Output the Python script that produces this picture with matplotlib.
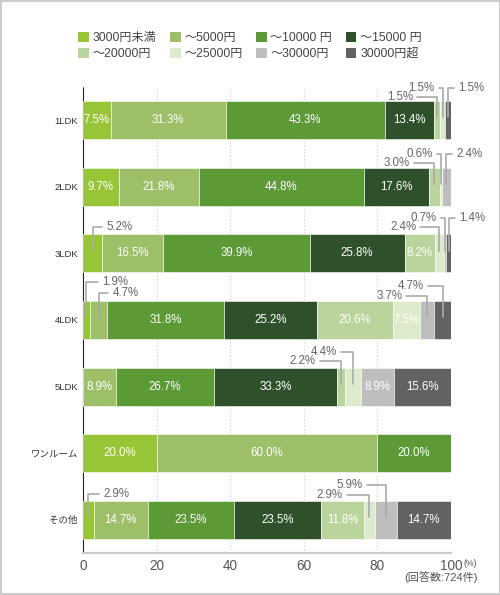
import numpy as np
import matplotlib
matplotlib.use('Agg')
import matplotlib.pyplot as plt
from matplotlib.patches import Patch, Rectangle

plt.rcParams['font.family'] = ['Liberation Sans', 'Noto Sans CJK JP', 'DejaVu Sans']

# rows (top to bottom) and price bands
categories = ['1LDK', '2LDK', '3LDK', '4LDK', '5LDK', 'ワンルーム', 'その他']
band_labels = ['3000円未満', '〜5000円', '〜10000 円', '〜15000 円',
               '〜20000円', '〜25000円', '〜30000円', '30000円超']

# share (%) of each band per row
under_3000 = [7.5, 9.7, 5.2, 1.9, 0.0, 20.0, 2.9]
to_5000 = [31.3, 21.8, 16.5, 4.7, 8.9, 60.0, 14.7]
to_10000 = [43.3, 44.8, 39.9, 31.8, 26.7, 20.0, 23.5]
to_15000 = [13.4, 17.6, 25.8, 25.2, 33.3, 0.0, 23.5]
to_20000 = [1.5, 3.0, 8.2, 20.6, 2.2, 0.0, 11.8]
to_25000 = [1.5, 0.6, 2.4, 7.5, 4.4, 0.0, 2.9]
to_30000 = [0.0, 2.4, 0.7, 3.7, 8.9, 0.0, 5.9]
over_30000 = [1.5, 0.0, 1.4, 4.7, 15.6, 0.0, 14.7]

bands = [under_3000, to_5000, to_10000, to_15000,
         to_20000, to_25000, to_30000, over_30000]

band_colors = ['#98c535', '#9cbf68', '#5b9a35', '#2e512b',
               '#bad59c', '#ddeacc', '#bebebe', '#626262']

# small segments get a label outside with a leader line:
# (row, band, text offset x px, text offset y px)
callouts = [
    (0, 4, -24, 23), (0, 5, -8, 32), (0, 7, 10, 32),
    (1, 4, -24, 24), (1, 5, -8, 33), (1, 6, 10, 33),
    (2, 0, 14, 26), (2, 5, -23, 26), (2, 6, -8, 35), (2, 7, 10, 35),
    (3, 0, 16, 38), (3, 1, 14, 27), (3, 6, -25, 24), (3, 7, -19, 34),
    (4, 4, -25, 26), (4, 5, -16, 35),
    (6, 0, 15, 26), (6, 5, -27, 25), (6, 6, -23, 35),
]

fig = plt.figure(figsize=(5.0, 5.95), dpi=100)
ax = fig.add_axes([0.166, 0.0706, 0.736, 0.7832])

y = np.arange(len(categories))
left = np.zeros(len(categories))
lefts = []
for vals, col in zip(bands, band_colors):
    vals = np.array(vals)
    lefts.append(left.copy())
    ax.barh(y, vals, left=left, height=0.57, color=col, edgecolor='white',
            linewidth=0.4, zorder=3)
    for i, v in enumerate(vals):
        if v >= 7:
            ax.text(left[i] + v / 2, y[i], f'{v:.1f}%', ha='center', va='center',
                    color='white', fontsize=8.3, zorder=4)
    left = left + vals

for row, b, dx, dy in callouts:
    v = bands[b][row]
    xc = lefts[b][row] + v / 2
    ha = 'left' if dx > 0 else 'right'
    ax.annotate(f'{v:.1f}%', xy=(xc, row), xytext=(dx, dy),
                textcoords='offset pixels', ha=ha, va='center',
                fontsize=8.3, color='#666666', zorder=5,
                arrowprops=dict(arrowstyle='-', color='#aaaaaa', lw=1.2,
                                connectionstyle='angle,angleA=0,angleB=90,rad=0',
                                relpos=(0 if dx > 0 else 1, 0.5),
                                shrinkA=1, shrinkB=2))

ax.set_xlim(0, 100)
ax.set_ylim(len(categories) - 0.5, -0.5)
ax.set_yticks(y)
ax.set_yticklabels(categories, fontsize=6.8, color='#333333')
ax.set_xticks([0, 20, 40, 60, 80, 100])
ax.tick_params(axis='x', length=0, pad=4.0, labelsize=9.8, labelcolor='#555555')
ax.tick_params(axis='y', length=0, pad=3.6)
for gx in [20, 40, 60, 80, 100]:
    ax.axvline(gx, color='#cccccc', lw=0.8, ls=(0, (1, 2)), zorder=1)

for s in ['top', 'right']:
    ax.spines[s].set_visible(False)
ax.spines['left'].set_linestyle((0, (1, 1)))
ax.spines['left'].set_color('#222222')
ax.spines['left'].set_linewidth(0.8)
ax.spines['bottom'].set_color('#cccccc')
ax.spines['bottom'].set_linewidth(1.6)

fig.text(464 / 500, 1 - 564 / 595, '(%)', fontsize=6.3, color='#555555',
         ha='left', va='center')
fig.text(478 / 500, 1 - 577 / 595, '(回答数:724件)', fontsize=8, color='#555555',
         ha='right', va='center')

# legend, filled row by row
handles = [Patch(facecolor=c, edgecolor='none') for c in band_colors]
order = [0, 4, 1, 5, 2, 6, 3, 7]
fig.legend([handles[i] for i in order], [band_labels[i] for i in order],
           ncol=4, loc='center', bbox_to_anchor=(0.5, 1 - 46 / 595),
           frameon=False, fontsize=8.7, handlelength=0.9, handleheight=0.9,
           handletextpad=0.3, columnspacing=1.1, labelspacing=0.3,
           labelcolor='#444444')

fig.patches.append(Rectangle((0.001, 0.001), 0.998, 0.998, transform=fig.transFigure,
                             fill=False, edgecolor='#cccccc', lw=1.5))

fig.savefig('out.png', dpi=100)
